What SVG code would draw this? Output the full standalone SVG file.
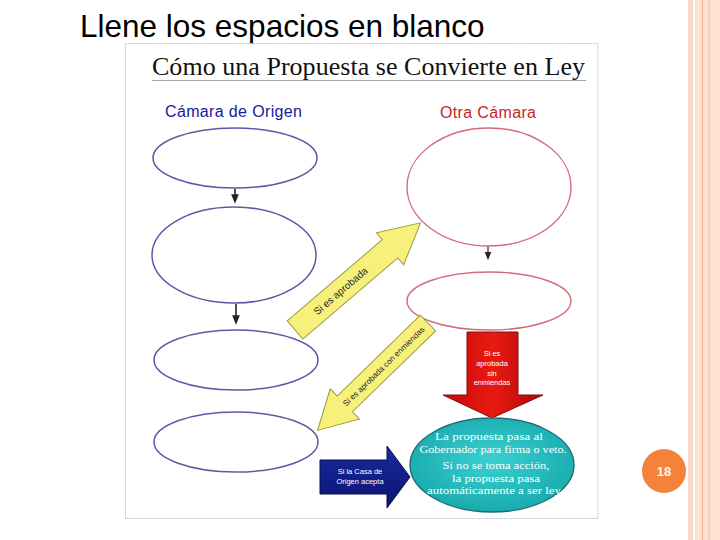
<svg xmlns="http://www.w3.org/2000/svg" width="720" height="540" viewBox="0 0 720 540">
<defs>
<style>
.sans{font-family:"Liberation Sans",Arial,sans-serif}
.serif{font-family:"Liberation Serif","Times New Roman",serif}
.lo{fill:#ffffff;stroke:#5a5aa6;stroke-width:1.5}
.ro{fill:#ffffff;stroke:#d46a78;stroke-width:1.4}
.yel{fill:#f7f07a;stroke:#9a9a40;stroke-width:1}
.ytxt{font-family:"Liberation Sans",Arial,sans-serif;fill:#222;text-anchor:middle}
.wtxt{font-family:"Liberation Sans",Arial,sans-serif;fill:#ffffff;text-anchor:middle;font-size:7.5px}
.ctxt{font-family:"Liberation Serif","Times New Roman",serif;fill:#ffffff;text-anchor:middle;font-size:10.5px}
</style>
<linearGradient id="redg" x1="0" y1="0" x2="1" y2="0">
<stop offset="0" stop-color="#c80808"/><stop offset="0.5" stop-color="#e81a12"/><stop offset="1" stop-color="#b00606"/>
</linearGradient>
<linearGradient id="blueg" x1="0" y1="0" x2="0" y2="1">
<stop offset="0" stop-color="#1a2aa0"/><stop offset="1" stop-color="#0a1470"/>
</linearGradient>
<radialGradient id="tealg" cx="0.5" cy="0.45" r="0.6">
<stop offset="0" stop-color="#3ad0d0"/><stop offset="1" stop-color="#16a8ac"/>
</radialGradient>
<marker id="ah" viewBox="0 0 10 10" refX="5" refY="5" markerWidth="6" markerHeight="6" orient="auto">
<path d="M0,1 L10,5 L0,9 z" fill="#222"/>
</marker>
</defs>
<rect width="720" height="540" fill="#ffffff"/>
<g id="side-stripes">
<rect x="688" y="0" width="5" height="540" fill="#fcd9c6"/>
<rect x="695" y="0" width="25" height="540" fill="#fde2d2"/>
<line x1="702.5" y1="0" x2="702.5" y2="540" stroke="#f2b493" stroke-width="1.2"/>
<line x1="709" y1="0" x2="709" y2="540" stroke="#f6c6aa" stroke-width="1.2"/>
</g>
<text x="80" y="37" class="sans" font-size="31.5" fill="#000">Llene los espacios en blanco</text>
<rect x="125.5" y="43.5" width="472.5" height="475" fill="#ffffff" stroke="#b4c2d6" stroke-width="1" stroke-dasharray="1.5,1"/>
<text x="152" y="75" class="serif" font-size="26" fill="#111" textLength="433">Cómo una Propuesta se Convierte en Ley</text>
<line x1="152" y1="80.5" x2="586" y2="80.5" stroke="#a8a8a8" stroke-width="1"/>
<text x="165" y="117" class="sans" font-size="16" fill="#1818a0" textLength="137">Cámara de Origen</text>
<text x="440" y="118" class="sans" font-size="16" fill="#c81e28" textLength="96">Otra Cámara</text>
<g id="connectors">
<line x1="235" y1="189" x2="235" y2="199" stroke="#222" stroke-width="1.6" marker-end="url(#ah)"/>
<line x1="236" y1="304" x2="236" y2="320" stroke="#222" stroke-width="1.6" marker-end="url(#ah)"/>
<line x1="488" y1="246" x2="488" y2="256" stroke="#444" stroke-width="1.4" marker-end="url(#ah)"/>
</g>
<g id="orig1"><ellipse cx="235" cy="158" rx="82" ry="30" class="lo"/></g>
<g id="orig2"><ellipse cx="234" cy="255" rx="82" ry="48" class="lo"/></g>
<g id="orig3"><ellipse cx="236" cy="360" rx="82" ry="30" class="lo"/></g>
<g id="orig4"><ellipse cx="236" cy="442" rx="82" ry="30" class="lo"/></g>
<g id="otra1"><ellipse cx="489" cy="187" rx="82" ry="59" class="ro"/></g>
<g id="otra2"><ellipse cx="489" cy="301" rx="82" ry="29" class="ro"/></g>
<g id="arrow-aprobada" transform="translate(295,330) rotate(-40.5)">
<polygon class="yel" points="0,-12 125,-12 125,-21 165,0 125,21 125,12 0,12"/>
<text x="60" y="3.5" class="ytxt" font-size="10">Si es aprobada</text>
</g>
<g id="arrow-enmiendas" transform="translate(428,323) rotate(135.8)">
<polygon class="yel" points="0,-11 116,-11 116,-21 154,0 116,21 116,11 0,11"/>
<text x="62" y="3" class="ytxt" font-size="8" transform="rotate(180 62 0)">Si es aprobada con enmiendas</text>
</g>
<g id="arrow-sin-enmiendas">
<polygon points="467,332 518,332 518,395 543,395 492,418 443,395 467,395" fill="url(#redg)" stroke="#7a1010" stroke-width="1"/>
<text x="492" y="356" class="wtxt">Si es</text>
<text x="492" y="366" class="wtxt">aprobada</text>
<text x="492" y="376" class="wtxt">sin</text>
<text x="492" y="385" class="wtxt">enmiendas</text>
</g>
<g id="gobernador">
<ellipse cx="492" cy="465" rx="82" ry="47" fill="url(#tealg)" stroke="#1d6e76" stroke-width="1.4"/>
<text x="489" y="440" class="ctxt" textLength="108" lengthAdjust="spacingAndGlyphs">La propuesta pasa al</text>
<text x="493" y="452.5" class="ctxt" textLength="147" lengthAdjust="spacingAndGlyphs">Gobernador para firma o veto.</text>
<text x="496" y="469" class="ctxt" textLength="107" lengthAdjust="spacingAndGlyphs">Si no se toma acción,</text>
<text x="496" y="481.5" class="ctxt" textLength="88" lengthAdjust="spacingAndGlyphs">la propuesta pasa</text>
<text x="494" y="494" class="ctxt" textLength="134" lengthAdjust="spacingAndGlyphs">automáticamente a ser ley</text>
</g>
<g id="arrow-acepta">
<polygon points="320,460 387,460 387,446 410,477 387,508 387,494 320,494" fill="url(#blueg)" stroke="#08104a" stroke-width="1"/>
<text x="360" y="474" class="wtxt">Si la Casa de</text>
<text x="360" y="484" class="wtxt">Origen acepta</text>
</g>
<g id="page-number">
<circle cx="664" cy="471" r="22" fill="#f5823a"/>
<text x="664" y="476" class="sans" font-size="13" font-weight="bold" fill="#fff5ea" text-anchor="middle">18</text>
</g>
</svg>
